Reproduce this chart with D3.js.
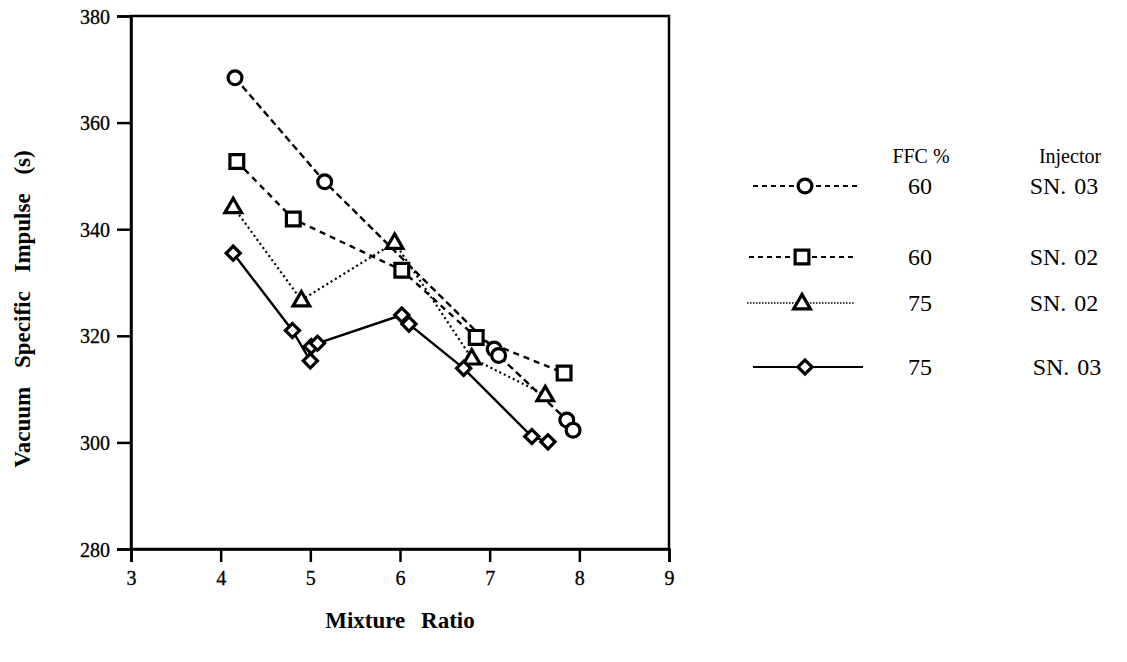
<!DOCTYPE html>
<html>
<head>
<meta charset="utf-8">
<script src="https://cdn.jsdelivr.net/npm/d3@7"></script>
<style>
  html, body { margin: 0; padding: 0; background: #fff; }
  svg text { font-family: "Liberation Serif", "Times New Roman", serif; fill: #000; }
</style>
</head>
<body>
<svg id="chart" width="1127" height="662"></svg>
<script>
// Mixture ratio (x) and vacuum specific impulse (y) for each test series
const circleX = [4.16, 5.16, 7.05, 7.10, 7.86, 7.93];
const circleY = [368.4, 348.9, 317.5, 316.3, 304.2, 302.3];

const squareX = [4.18, 4.81, 6.02, 6.85, 7.83];
const squareY = [352.7, 341.9, 332.3, 319.7, 313.0];

const triangleX = [4.14, 4.90, 5.94, 6.80, 7.62];
const triangleY = [344.2, 326.7, 337.5, 315.8, 308.9];

const diamondX = [4.14, 4.80, 5.00, 5.01, 5.08, 6.02, 6.10, 6.71, 7.47, 7.65];
const diamondY = [335.5, 321.0, 315.3, 318.0, 318.6, 323.9, 322.2, 313.9, 301.1, 300.1];

const xTicks = [3, 4, 5, 6, 7, 8, 9];
const yTicks = [280, 300, 320, 340, 360, 380];

const legendFFC = ["60", "60", "75", "75"];
const legendInjector = ["SN. 03", "SN. 02", "SN. 02", "SN. 03"];

const svg = d3.select("#chart");
const plotLeft = 131, plotRight = 669, plotTop = 16, plotBottom = 549;

const x = d3.scaleLinear().domain([3, 9]).range([plotLeft, plotRight]);
const y = d3.scaleLinear().domain([280, 380]).range([plotBottom, plotTop]);

// Frame
svg.append("rect")
  .attr("x", plotLeft).attr("y", plotTop)
  .attr("width", plotRight - plotLeft).attr("height", plotBottom - plotTop)
  .attr("fill", "none").attr("stroke", "#000").attr("stroke-width", 2.5);

// Axes
const xAxis = svg.append("g").attr("transform", `translate(0,${plotBottom})`)
  .call(d3.axisBottom(x).tickValues(xTicks).tickSize(13).tickPadding(9).tickFormat(d3.format("d")));
const yAxis = svg.append("g").attr("transform", `translate(${plotLeft},0)`)
  .call(d3.axisLeft(y).tickValues(yTicks).tickSize(14).tickPadding(7).tickFormat(d3.format("d")));
[xAxis, yAxis].forEach(a => {
  a.select(".domain").attr("stroke", "#000").attr("stroke-width", 2.5);
  a.selectAll(".tick line").attr("stroke", "#000").attr("stroke-width", 2.5);
  a.selectAll(".tick text").attr("font-size", 20).attr("font-family", "Liberation Serif")
    .attr("fill", "#000").attr("stroke", "#000").attr("stroke-width", 0.3);
});
yAxis.selectAll(".tick text").attr("dy", "0.35em");

// Axis titles
svg.append("text")
  .attr("x", 400).attr("y", 628)
  .attr("text-anchor", "middle")
  .attr("font-size", 23).attr("font-weight", "bold")
  .attr("word-spacing", 10)
  .text("Mixture Ratio");
svg.append("text")
  .attr("transform", `translate(30,309) rotate(-90)`)
  .attr("text-anchor", "middle")
  .attr("font-size", 23).attr("font-weight", "bold")
  .attr("word-spacing", 13)
  .text("Vacuum Specific Impulse (s)");

// Marker shapes
const sym = {
  circle: d3.symbol().type(d3.symbolCircle).size(150),
  square: d3.symbol().type(d3.symbolSquare).size(190),
  triangle: d3.symbol().type(d3.symbolTriangle).size(120),
  diamond: d3.symbol().type(d3.symbolSquare).size(100)
};

const series = [
  { xs: circleX, ys: circleY, shape: "circle", dash: "7,4" },
  { xs: squareX, ys: squareY, shape: "square", dash: "6,5" },
  { xs: triangleX, ys: triangleY, shape: "triangle", dash: "2,3" },
  { xs: diamondX, ys: diamondY, shape: "diamond", dash: null }
];

const line = d3.line().x(d => x(d[0])).y(d => y(d[1]));

function drawMarker(g, shape, cx, cy) {
  const p = g.append("path")
    .attr("d", sym[shape]())
    .attr("fill", "#fff").attr("stroke", "#000").attr("stroke-width", 3.2);
  let t = `translate(${cx},${cy})`;
  if (shape === "diamond") t += " rotate(45)";
  if (shape === "triangle") t += " translate(0,1)";
  p.attr("transform", t);
}

series.forEach(s => {
  const pts = s.xs.map((v, i) => [v, s.ys[i]]);
  svg.append("path")
    .datum(pts)
    .attr("d", line)
    .attr("fill", "none").attr("stroke", "#000")
    .attr("stroke-width", s.dash === "2,3" ? 2.2 : 2.4)
    .attr("stroke-dasharray", s.dash);
});
series.forEach(s => {
  const g = svg.append("g");
  s.xs.forEach((v, i) => drawMarker(g, s.shape, x(v), y(s.ys[i])));
});

// Legend
svg.append("text").attr("x", 921).attr("y", 163).attr("text-anchor", "middle")
  .attr("font-size", 20).text("FFC %");
svg.append("text").attr("x", 1070).attr("y", 163).attr("text-anchor", "middle")
  .attr("font-size", 20).text("Injector");

const legendRows = [
  { cy: 186, x1: 753, x2: 858, mx: 805 },
  { cy: 257, x1: 749, x2: 855, mx: 802 },
  { cy: 303, x1: 747, x2: 854, mx: 802 },
  { cy: 367, x1: 753, x2: 863, mx: 805 }
];
legendRows.forEach((r, i) => {
  const s = series[i];
  const g = svg.append("g");
  g.append("line")
    .attr("x1", r.x1).attr("x2", r.x2).attr("y1", r.cy).attr("y2", r.cy)
    .attr("stroke", "#000").attr("stroke-width", s.dash === "2,3" ? 1.5 : 2)
    .attr("stroke-dasharray", s.dash === "2,3" ? "1.5,1.5" : (s.dash ? "5,4" : null));
  drawMarker(g, s.shape, r.mx, r.cy);
  svg.append("text").attr("x", 920).attr("y", r.cy + 8).attr("text-anchor", "middle")
    .attr("font-size", 24).text(legendFFC[i]);
  svg.append("text").attr("x", 1064 + (i === 3 ? 3 : 0)).attr("y", r.cy + 8).attr("text-anchor", "middle")
    .attr("font-size", 24).attr("word-spacing", 2).text(legendInjector[i]);
});
</script>
</body>
</html>
